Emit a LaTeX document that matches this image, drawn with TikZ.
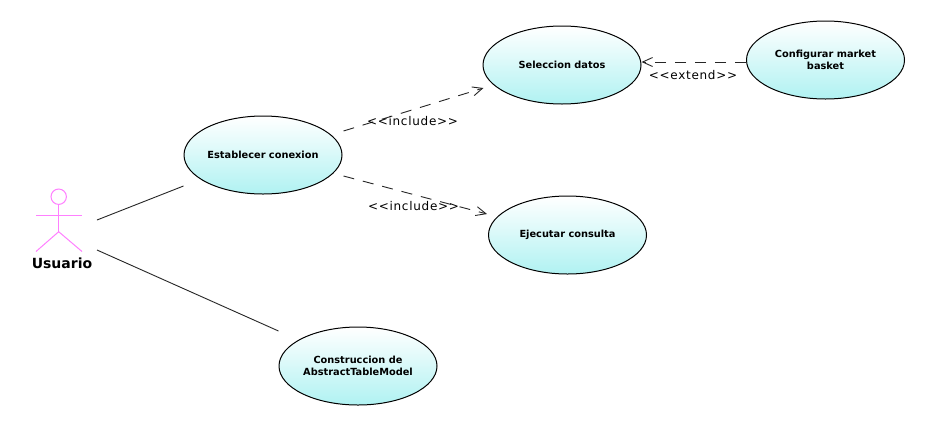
\documentclass[tikz,border=0pt]{standalone}
\usepackage{fontspec}
\setmainfont{DejaVu Sans}
\newfontfamily\stereofont[LetterSpace=6]{DejaVu Sans}
\usetikzlibrary{%
arrows.meta,%
calc,%
shapes.geometric}
\definecolor{usecyan}{HTML}{B0F2F2}
\definecolor{actorpink}{HTML}{FF80FF}
\tikzset{
  usecase/.style={ellipse,draw=black,line width=1pt,top color=white,bottom color=usecyan,
    minimum width=158pt,minimum height=78pt,inner sep=0pt,align=center,
    font=\fontsize{9.8}{12.5}\selectfont\bfseries},
  assoc/.style={line width=.9pt,black!85},
  depend/.style={line width=.9pt,black!85,dash pattern=on 11pt off 9pt,-{Straight Barb[length=10pt,width=9pt]}},
  stereo/.style={font=\stereofont\fontsize{12}{13}\selectfont},
  actorline/.style={line width=1pt,actorpink}
}
\begin{document}
\begin{tikzpicture}[x=1pt,y=-1pt]
\useasboundingbox (0,0) rectangle (925,424);
\fill[white] (0,0) rectangle (925,424);
% use cases
\node[usecase] (establecer) at (263,155) {Establecer conexion};
\node[usecase] (seleccion) at (562,65) {Seleccion datos};
\node[usecase] (configurar) at (825.5,60) {Configurar market\\basket};
\node[usecase] (ejecutar) at (567.5,235) {Ejecutar consulta};
\node[usecase] (construccion) at (358,366) {Construccion de\\AbstractTableModel};
% actor
\draw[actorline] (58.7,196.7) circle (7.7);
\draw[actorline] (58.7,204.4) -- (58.7,231.7);
\draw[actorline] (36,215) -- (82,215);
\draw[actorline] (36,251.5) -- (58.7,231.7) -- (82,251.5);
\node[font=\fontsize{14}{14}\selectfont\bfseries] (usuario) at (62,263) {Usuario};
\coordinate (usuarioA) at (97,220);
\coordinate (usuarioB) at (97,250);
% connectors
\draw[assoc] (usuarioA) -- ($(establecer.west)+(0,31)$);
\draw[assoc] (usuarioB) -- ($(construccion.west)+(0,-35)$);
\draw[depend] ($(establecer.east)+(1,-24)$) -- ($(seleccion.west)+(1,23)$);
\draw[depend] ($(establecer.east)+(1,21)$) -- ($(ejecutar.west)+(-1,-21)$);
\draw[depend] ($(configurar.west)+(0,2)$) -- ($(seleccion.east)+(0,-3)$);
% stereotypes
\node[stereo] (include1) at (412.5,121) {<{}<include>{}>};
\node[stereo] (include2) at (413.5,206) {<{}<include>{}>};
\node[stereo] (extend1) at (693,75) {<{}<extend>{}>};
\end{tikzpicture}
\end{document}
